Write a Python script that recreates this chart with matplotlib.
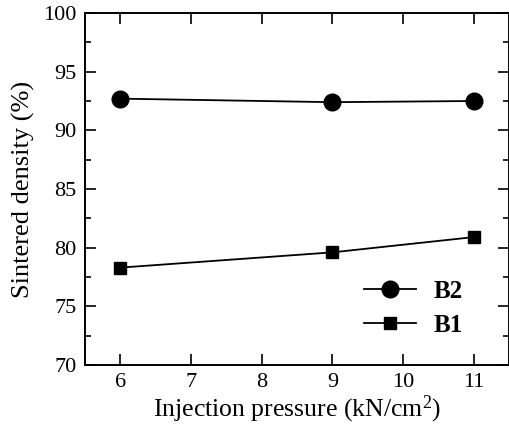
import matplotlib
matplotlib.use("Agg")
import matplotlib.pyplot as plt
from matplotlib.ticker import MultipleLocator

# sintered density vs injection pressure
pressure = [6, 9, 11]
b2_density = [92.7, 92.4, 92.5]
b1_density = [78.3, 79.6, 80.9]

plt.rcParams['font.family'] = ['Liberation Serif', 'DejaVu Serif']
plt.rcParams['mathtext.fontset'] = 'custom'
plt.rcParams['mathtext.rm'] = 'Liberation Serif'
plt.rcParams['mathtext.it'] = 'Liberation Serif:italic'

fig = plt.figure(figsize=(5.1, 4.26), dpi=100)
ax = fig.add_axes([85/510, 61/426, 424/510, 352/426])

ax.plot(pressure, b2_density, color='black', lw=1.3, marker='o', ms=12, label='B2')
ax.plot(pressure, b1_density, color='black', lw=1.3, marker='s', ms=8.5, label='B1')

ax.set_xlim(5.5, 11.5)
ax.set_ylim(70, 100)
ax.xaxis.set_major_locator(MultipleLocator(1))
ax.yaxis.set_major_locator(MultipleLocator(5))
ax.yaxis.set_minor_locator(MultipleLocator(2.5))
ax.tick_params(which='both', direction='in', top=True, right=True, labelsize=16, width=1.2)
ax.tick_params(which='major', length=8, pad=6)
ax.tick_params(which='minor', length=4)
for s in ax.spines.values():
    s.set_linewidth(1.4)

ax.set_xlabel(r'Injection pressure (kN/cm$^2$)', fontsize=18.5, labelpad=1)
ax.set_ylabel('Sintered density (%)', fontsize=19, labelpad=6)

ax.legend(loc='lower right', bbox_to_anchor=(0.945, 0.015), frameon=False,
          prop={'weight': 'bold', 'size': 18}, handlelength=2.1, labelspacing=0.45,
          handletextpad=0.7)

fig.savefig('out.png', dpi=100)
